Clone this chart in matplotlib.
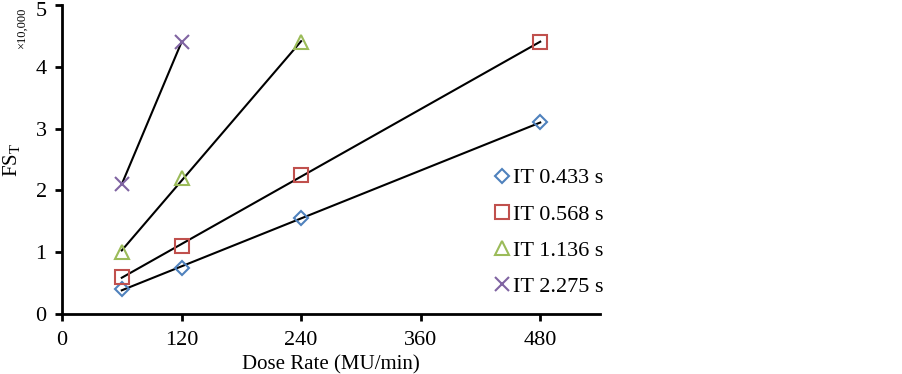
import numpy as np
import matplotlib
matplotlib.use("Agg")
import matplotlib.pyplot as plt
import matplotlib.transforms as mtransforms

plt.rcParams['font.family'] = ['Liberation Serif', 'DejaVu Serif']

series_names = ["IT 0.433 s", "IT 0.568 s", "IT 1.136 s", "IT 2.275 s"]
x_0433 = [60, 120, 240, 480]
y_0433 = [0.40, 0.75, 1.55, 3.10]
x_0568 = [60, 120, 240, 480]
y_0568 = [0.60, 1.10, 2.25, 4.40]
x_1136 = [60, 120, 240]
y_1136 = [1.00, 2.20, 4.40]
x_2275 = [60, 120]
y_2275 = [2.10, 4.40]
x_ticks = [0, 120, 240, 360, 480]
y_ticks = [0, 1, 2, 3, 4, 5]

colors = ["#4f81bd", "#c0504d", "#9bbb59", "#8064a2"]
markers = ["D", "s", "^", "x"]
msizes = [7, 10, 10, 10]

fig = plt.figure(figsize=(9.03, 3.74), dpi=100)
ax = fig.add_axes([62/903, 1-314/374, 538/903, 309/374])

data = [(x_0433, y_0433), (x_0568, y_0568), (x_1136, y_1136), (x_2275, y_2275)]
handles = []
for (xs, ys), c, m, ms, name in zip(data, colors, markers, msizes, series_names):
    xs = np.array(xs, float); ys = np.array(ys, float)
    if m == "x":
        h, = ax.plot(xs, ys, linestyle='none', marker=m, ms=ms, mec=c, mew=1.5, label=name, zorder=3)
    else:
        h, = ax.plot(xs, ys, linestyle='none', marker=m, ms=ms, mfc='none', mec=c, mew=1.5, label=name, zorder=3)
    handles.append(h)
    k, b = np.polyfit(xs, ys, 1)
    xx = np.array([xs.min(), xs.max()])
    ax.plot(xx, k*xx + b, color='black', lw=1.5, zorder=2)

ax.set_xlim(0, 540)
ax.set_ylim(0, 5)
ax.set_xticks(x_ticks)
ax.set_yticks(y_ticks)
ax.set_xticklabels([str(t) for t in x_ticks])
ax.set_yticklabels([str(t) for t in y_ticks])
for s in ['top', 'right']:
    ax.spines[s].set_visible(False)
for s in ['left', 'bottom']:
    ax.spines[s].set_linewidth(2)
ax.tick_params(axis='both', direction='out', length=5, width=2, labelsize=16)
ax.tick_params(axis='x', pad=7)
ax.tick_params(axis='y', pad=6)

# nudge the top y tick label down so it stays inside the figure
top_lbl = ax.get_yticklabels()[-1]
top_lbl.set_transform(top_lbl.get_transform() + mtransforms.ScaledTranslation(0, -4/100, fig.dpi_scale_trans))

ax.set_xlabel("Dose Rate (MU/min)", fontsize=15, labelpad=4)
ax.set_ylabel(r"FS$_\mathregular{T}$", fontsize=15, labelpad=9)
fig.text(22/903, 1-28/374, "×10,000", rotation=90, fontsize=9, ha='center', va='center')

fig.legend(handles=handles, labels=series_names, loc='upper left',
           bbox_to_anchor=(482/903, 1-159/374), frameon=False, fontsize=16,
           handletextpad=0.0, handlelength=1.0, labelspacing=0.7, borderaxespad=0)

fig.savefig("out.png", dpi=100)
